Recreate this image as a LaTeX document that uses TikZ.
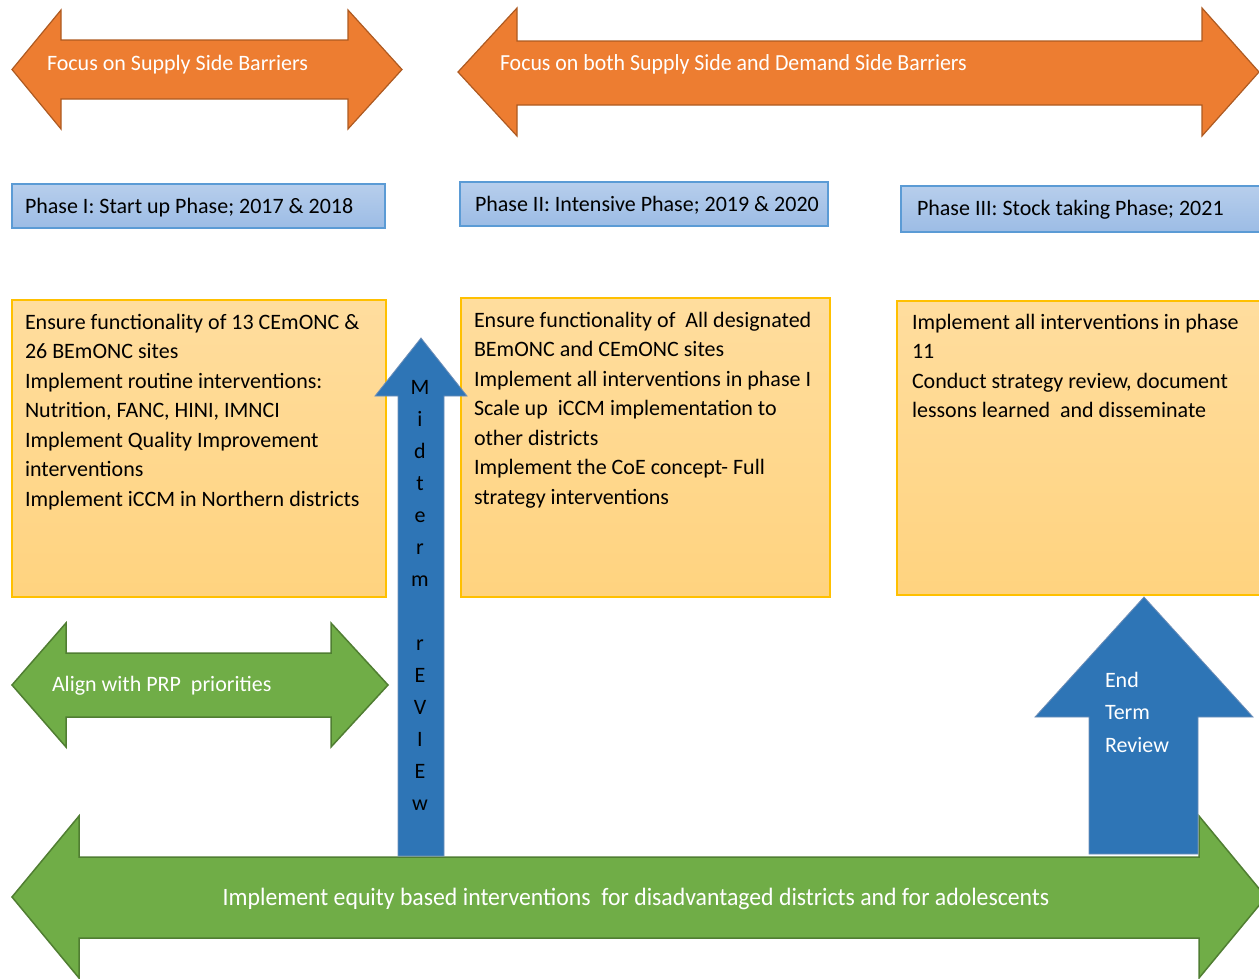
\documentclass[tikz,border=0pt]{standalone}
\usepackage{fontspec}
\setmainfont{Carlito}
\definecolor{orangeF}{HTML}{ED7D31}
\definecolor{orangeD}{HTML}{AE5A21}
\definecolor{greenF}{HTML}{70AD47}
\definecolor{greenD}{HTML}{507E32}
\definecolor{blueF}{HTML}{2E75B6}
\definecolor{blueD}{HTML}{6F8FB8}
\definecolor{phTop}{HTML}{B7CEEC}
\definecolor{phBot}{HTML}{9CBCE5}
\definecolor{phD}{HTML}{5B9BD5}
\definecolor{yTop}{HTML}{FFDD9E}
\definecolor{yBot}{HTML}{FFD37F}
\definecolor{yD}{HTML}{FFC000}
\begin{document}
\begin{tikzpicture}[x=1pt,y=-1pt,
  every node/.style={inner sep=0pt, outer sep=0pt},
  body/.style={font=\fontsize{22}{29.5}\selectfont, align=left, anchor=north west, text=black},
  phlabel/.style={font=\fontsize{22}{25}\selectfont, anchor=base west, text=black},
  wlabel/.style={font=\fontsize{22}{25}\selectfont, anchor=base west, text=white},
  orangearrow/.style={fill=orangeF, draw=orangeD, line width=1.2pt, line join=miter},
  greenarrow/.style={fill=greenF, draw=greenD, line width=1.5pt, line join=miter},
  bluearrow/.style={fill=blueF, draw=blueD, line width=0.8pt, line join=miter},
  phasebox/.style={top color=phTop, bottom color=phBot, draw=phD, line width=1.5pt},
  ybox/.style={top color=yTop, bottom color=yBot, draw=yD, line width=2pt}
]
\useasboundingbox (0,0) rectangle (1259,978);

% orange arrows
\draw[orangearrow] (12,69.5) -- (61,10) -- (61,40) -- (348,40) -- (348,10) -- (402,69.5)
  -- (348,129) -- (348,99) -- (61,99) -- (61,129) -- cycle;
\draw[orangearrow] (458,72) -- (517,8) -- (517,41) -- (1202,41) -- (1202,8) -- (1259,72)
  -- (1202,136) -- (1202,105) -- (517,105) -- (517,136) -- cycle;
\node[wlabel] (focus1) at (47,70) {Focus on Supply Side Barriers};
\node[wlabel, font=\fontsize{23}{25}\selectfont] (focus2) at (500,70) {\scalebox{0.95}[1]{Focus on both Supply Side and Demand Side Barriers}};

% phase boxes
\draw[phasebox] (12,184) rectangle (385,228);
\draw[phasebox] (460,182) rectangle (828,226);
\draw[phasebox] (901,186) rectangle (1262,232);
\node[phlabel] (ph1) at (25,213) {Phase I: Start up Phase; 2017 \& 2018};
\node[phlabel] (ph2) at (475,211) {Phase II: Intensive Phase; 2019 \& 2020};
\node[phlabel] (ph3) at (917,215) {Phase III: Stock taking Phase; 2021};

% content boxes
\draw[ybox] (12,300) rectangle (386,597);
\draw[ybox] (461,298) rectangle (830,597);
\draw[ybox] (897,301) rectangle (1262,595);
\node[body] (c1) at (25,314) {Ensure functionality of 13 CEmONC \&\\26 BEmONC sites\\Implement routine interventions:\\Nutrition, FANC, HINI, IMNCI\\Implement Quality Improvement\\interventions\\Implement iCCM in Northern districts};
\node[body] (c2) at (474,312) {Ensure functionality of\ \ All designated\\BEmONC and CEmONC sites\\Implement all interventions in phase I\\Scale up\ \ iCCM implementation to\\other districts\\Implement the CoE concept- Full\\strategy interventions};
\node[body] (c3) at (912,314) {Implement all interventions in phase\\11\\Conduct strategy review, document\\lessons learned\ \ and disseminate};

% green arrows
\draw[greenarrow] (12,685) -- (66,623) -- (66,653) -- (331,653) -- (331,623) -- (388,685)
  -- (331,747) -- (331,717) -- (66,717) -- (66,747) -- cycle;
\node[wlabel] (align) at (52,691) {Align with PRP\ \ priorities};
\draw[greenarrow] (12,897) -- (79,816) -- (79,857) -- (1199,857) -- (1199,816) -- (1266,897)
  -- (1199,978) -- (1199,938) -- (79,938) -- (79,978) -- cycle;
\node[font=\fontsize{25}{27}\selectfont, text=white, anchor=base] (equity) at (636,905)
  {\scalebox{0.95}[1]{Implement equity based interventions\ \ for disadvantaged districts and for adolescents}};

% review arrows
\draw[bluearrow] (421,338) -- (467,396) -- (444,396) -- (444,856) -- (398,856) -- (398,396) -- (375,396) -- cycle;
\node[font=\fontsize{22}{32}\selectfont, align=center, anchor=north, text=black] (mid) at (420,380)
  {M\\i\\d\\t\\e\\r\\m\\ \\r\\E\\V\\I\\E\\w};
\draw[bluearrow] (1144,597) -- (1253,717) -- (1198,717) -- (1198,854) -- (1089,854) -- (1089,717) -- (1035,717) -- cycle;
\node[font=\fontsize{22}{32.5}\selectfont, align=left, anchor=north west, text=white] (endt) at (1105,672)
  {End\\Term\\Review};
\end{tikzpicture}
\end{document}
